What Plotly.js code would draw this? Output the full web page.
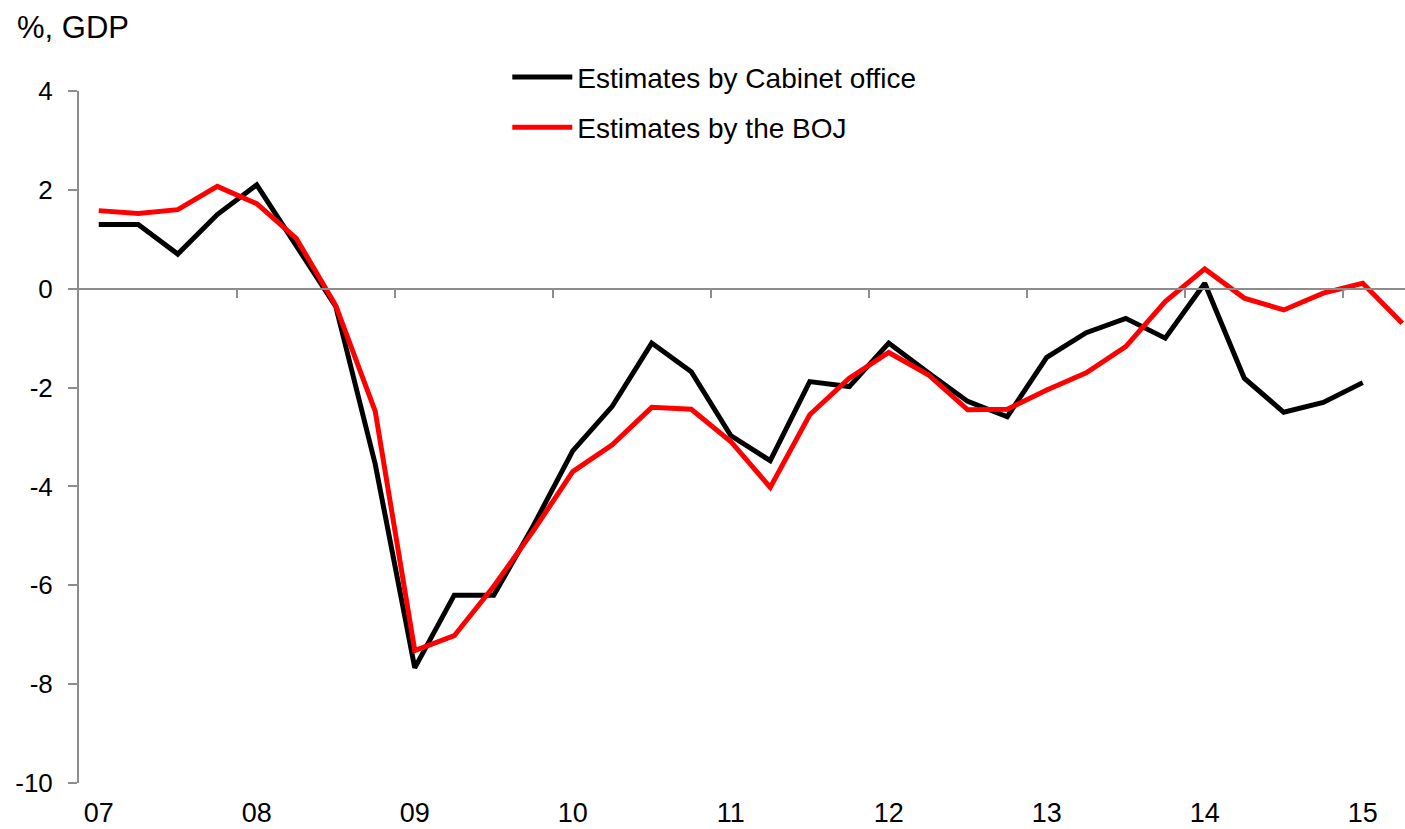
<!DOCTYPE html>
<html>
<head>
<meta charset="utf-8">
<script src="https://cdn.plot.ly/plotly-3.0.1.min.js"></script>
<style>html,body{margin:0;padding:0;background:#fff;}#chart{width:1405px;height:829px;}</style>
</head>
<body>
<div id="chart"></div>
<script>
// Quarterly categories 2007Q1 - 2015Q2
const quarters = [
  "07Q1","07Q2","07Q3","07Q4","08Q1","08Q2","08Q3","08Q4",
  "09Q1","09Q2","09Q3","09Q4","10Q1","10Q2","10Q3","10Q4",
  "11Q1","11Q2","11Q3","11Q4","12Q1","12Q2","12Q3","12Q4",
  "13Q1","13Q2","13Q3","13Q4","14Q1","14Q2","14Q3","14Q4",
  "15Q1","15Q2"
];
const cabinetOffice = [1.3, 1.3, 0.7, 1.5, 2.1, 0.85, -0.36, -3.55, -7.67, -6.2,
  -6.2, -4.8, -3.28, -2.38, -1.1, -1.68, -2.97, -3.48, -1.88, -1.98,
  -1.1, -1.7, -2.28, -2.59, -1.39, -0.89, -0.6, -1.0, 0.11, -1.81,
  -2.5, -2.3, -1.9];
const boj = [1.58, 1.52, 1.6, 2.07, 1.72, 1.02, -0.34, -2.48, -7.32, -7.02,
  -6.02, -4.9, -3.7, -3.16, -2.4, -2.44, -3.09, -4.02, -2.55, -1.81,
  -1.29, -1.74, -2.45, -2.44, -2.05, -1.7, -1.17, -0.26, 0.4, -0.19,
  -0.43, -0.09, 0.11, -0.7];
const yearTickVals = ["07Q1","08Q1","09Q1","10Q1","11Q1","12Q1","13Q1","14Q1","15Q1"];
const yearTickText = ["07","08","09","10","11","12","13","14","15"];
const yTickVals = [4, 2, 0, -2, -4, -6, -8, -10];
const yTickText = ["4", "2", "0", "-2", "-4", "-6", "-8", "-10"];
const seriesNames = ["Estimates by Cabinet office", "Estimates by the BOJ"];

const FONT = 'Arial, "Liberation Sans", sans-serif';
const GREY = '#8c8c8c';
const xRange = [-0.5, 33.07];
const yMin = -10, yMax = 4;

// quarter positions on the axis (index of each category)
const qIndex = quarters.map((q, i) => i);
const yearIdx = yearTickVals.map(v => quarters.indexOf(v));
// boundary ticks between years (between Q4 and Q1)
const boundaryTicks = yearIdx.slice(1).map(i => i - 0.5);

const traces = [
  {x: qIndex.slice(0, cabinetOffice.length), y: cabinetOffice, name: seriesNames[0],
   text: quarters.slice(0, cabinetOffice.length),
   type: 'scatter', mode: 'lines', line: {color: '#000000', width: 5}, legendgroup: 'a'},
  {x: qIndex, y: boj, name: seriesNames[1], text: quarters, xaxis: 'x2',
   type: 'scatter', mode: 'lines', line: {color: '#ff0000', width: 5}, legendgroup: 'b'}
];

const layout = {
  width: 1405, height: 829,
  margin: {l: 79, r: 0, t: 91, b: 46},
  paper_bgcolor: '#ffffff', plot_bgcolor: '#ffffff',
  font: {family: FONT, color: '#000000', size: 26},
  title: {text: '%, GDP', font: {family: FONT, size: 31, color: '#000'},
          xref: 'container', yref: 'container', x: 17/1405, xanchor: 'left',
          y: 1 - 27/829, yanchor: 'middle'},
  showlegend: true,
  legend: {x: 0.323, xanchor: 'left', y: 1.056, yanchor: 'top',
           font: {family: FONT, size: 28, color: '#000'},
           bgcolor: 'rgba(0,0,0,0)', traceorder: 'grouped', tracegroupgap: 11,
           itemwidth: 60},
  xaxis: {type: 'linear', range: xRange, tickmode: 'array',
          tickvals: yearIdx, ticktext: yearTickText,
          showline: false, showgrid: false, zeroline: false, ticks: '',
          ticklabelstandoff: 11, tickfont: {family: FONT, size: 27, color: '#000'}},
  xaxis2: {type: 'linear', overlaying: 'x', anchor: 'free',
           position: (0 - yMin) / (yMax - yMin), side: 'bottom',
           range: xRange, tickmode: 'array', tickvals: boundaryTicks,
           showticklabels: false, ticks: 'outside', ticklen: 8, tickwidth: 2,
           tickcolor: GREY, showline: true, linecolor: GREY, linewidth: 2,
           showgrid: false, zeroline: false},
  yaxis: {range: [yMin, yMax], tickmode: 'array', tickvals: yTickVals, ticktext: yTickText,
          ticks: 'outside', ticklen: 9,
          tickwidth: 2, tickcolor: GREY, showline: true, linecolor: GREY, linewidth: 2,
          showgrid: false, zeroline: false, ticklabelstandoff: 10,
          tickfont: {family: FONT, size: 26, color: '#000'}}
};

Plotly.newPlot('chart', traces, layout, {displayModeBar: false, staticPlot: true});
</script>
</body>
</html>
